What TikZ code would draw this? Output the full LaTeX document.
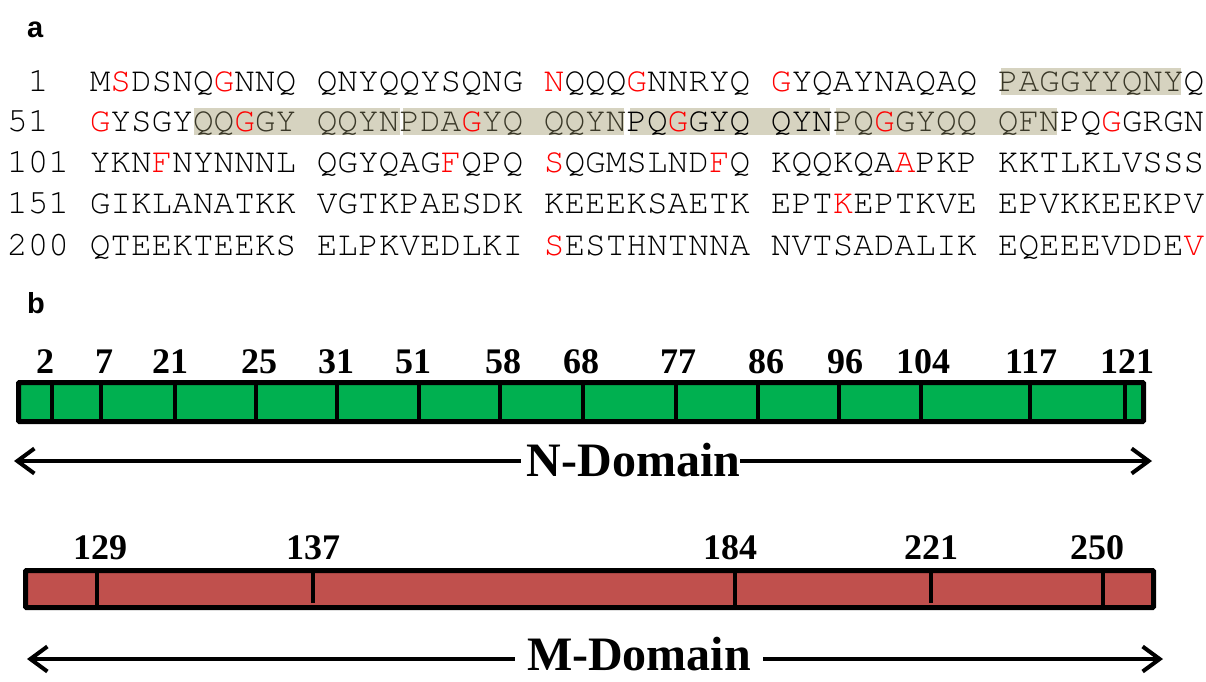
\documentclass[tikz,border=0pt]{standalone}
\usepackage[T1]{fontenc}
\usepackage{fontspec}
\usetikzlibrary{arrows.meta,calc}
\newfontfamily\timesf{Liberation Serif}
\newfontfamily\arialf{Liberation Sans}
\newcommand\seqfont{\fontencoding{T1}\fontfamily{pcr}\fontsize{34.4}{41}\selectfont}
\definecolor{hl}{RGB}{214,211,192}
\definecolor{hlt}{RGB}{58,56,40}
\definecolor{gbar}{RGB}{0,176,80}
\definecolor{rbar}{RGB}{192,80,77}
\newcommand\RDc[1]{\textcolor{red}{#1}}
\newcommand\HLc[1]{\textcolor{hlt}{#1}}
\tikzset{
  seq/.style={anchor=base west, inner sep=0pt, font=\seqfont},
  panel/.style={anchor=base west, inner sep=0pt, font=\arialf\bfseries\fontsize{29}{31}\selectfont},
  num/.style={anchor=base, inner sep=0pt, font=\timesf\bfseries\fontsize{36}{40}\selectfont},
  dom/.style={anchor=base, inner sep=0pt, font=\timesf\bfseries\fontsize{48}{50}\selectfont},
  border/.style={line width=5pt, rounded corners=1pt},
  tick/.style={line width=4pt},
  arr/.style={line width=4pt, -{Straight Barb[length=17pt,width=25pt]}},
  hlbox/.style={fill=hl}
}
\begin{document}
\begin{tikzpicture}[x=1pt,y=-1pt]
\useasboundingbox (0,0) rectangle (1206,681);
% panel labels
\node[panel] (la) at (27,37) {a};
\node[panel] (lb) at (27,313) {b};
% highlight boxes
\fill[hlbox] (1001,68) rectangle (1181,95);
\fill[hlbox] (194,108) rectangle (400,135);
\fill[hlbox] (403,108) rectangle (624,135);
\fill[hlbox] (630,108) rectangle (830,135);
\fill[hlbox] (836,108) rectangle (1057,135);
% row numbers
\node[seq] (n1) at (27.65,91) {1};
\node[seq] (n2) at (7,131) {51};
\node[seq] (n3) at (7,172) {101};
\node[seq] (n4) at (7,213) {151};
\node[seq] (n5) at (7,255) {200};
% sequence rows
\node[seq] (s1) at (89.6,91) {M\RDc{S}DSNQ\RDc{G}NNQ QNYQQYSQNG \RDc{N}QQQ\RDc{G}NNRYQ \RDc{G}YQAYNAQAQ \HLc{PAGGYYQNY}Q};
\node[seq] (s2) at (89.6,131) {\RDc{G}YSGY\HLc{QQ}\RDc{G}\HLc{GY QQYNPDA}\RDc{G}\HLc{YQ QQYN}PQ\RDc{G}GYQ QYN\HLc{PQ}\RDc{G}\HLc{GYQQ QFN}PQ\RDc{G}GRGN};
\node[seq] (s3) at (89.6,172) {YKN\RDc{F}NYNNNL QGYQAG\RDc{F}QPQ \RDc{S}QGMSLND\RDc{F}Q KQQKQA\RDc{A}PKP KKTLKLVSSS};
\node[seq] (s4) at (89.6,213) {GIKLANATKK VGTKPAESDK KEEEKSAETK EPT\RDc{K}EPTKVE EPVKKEEKPV};
\node[seq] (s5) at (89.6,255) {QTEEKTEEKS ELPKVEDLKI \RDc{S}ESTHNTNNA NVTSADALIK EQEEEVDDE\RDc{V}};
% green bar (N-domain)
\fill[gbar] (18.5,382.5) rectangle (1143.5,421.5);
\foreach \x in {52,101,175,256,337,419,500,583,676,758,839,921,1030,1125}
  \draw[tick] (\x,382.5) -- (\x,421.5);
\draw[border] (18.5,382.5) rectangle (1143.5,421.5);
\foreach \x/\n in {45/2,104/7,170/21,259/25,336/31,413/51,503/58,581/68,678/77,766/86,845/96,923/104,1031/117,1127/121}
  \node[num] (g\n) at (\x,373) {\n};
% red bar (M-domain)
\fill[rbar] (25.5,570.5) rectangle (1153.5,607.5);
\foreach \x/\b in {97/607.5,313/603,734.5/607.5,930.5/603,1103/607.5}
  \draw[tick] (\x,570.5) -- (\x,\b);
\draw[border] (25.5,570.5) rectangle (1153.5,607.5);
\foreach \x/\n in {100/129,313/137,730/184,931/221,1097/250}
  \node[num] (m\n) at (\x,559) {\n};
% domain arrows
\node[dom] (nd) at (633.5,476) {N-Domain};
\coordinate (nl) at (14,461);
\coordinate (nr) at (1152,461);
\draw[arr] ($(nd.west |- nl)+(-6,0)$) -- (nl);
\draw[arr] (nd.east |- nr) -- (nr);
\node[dom] (md) at (639,670) {M-Domain};
\coordinate (ml) at (27,659);
\coordinate (mr) at (1163,659);
\draw[arr] ($(md.west |- ml)+(-12,0)$) -- (ml);
\draw[arr] ($(md.east |- mr)+(12,0)$) -- (mr);
\end{tikzpicture}
\end{document}
